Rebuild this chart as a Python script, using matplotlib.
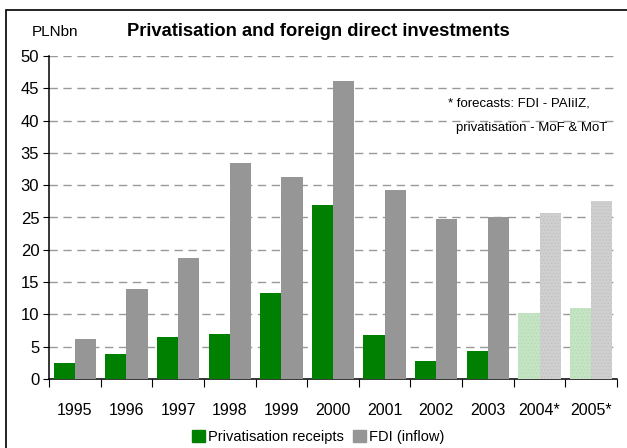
import numpy as np
import matplotlib
matplotlib.use('Agg')
import matplotlib.pyplot as plt
from matplotlib.patches import Rectangle

years = ["1995", "1996", "1997", "1998", "1999", "2000",
         "2001", "2002", "2003", "2004*", "2005*"]
privatisation = [2.5, 3.9, 6.5, 7.0, 13.3, 27.0, 6.8, 2.8, 4.3, 10.2, 11.0]
fdi = [6.2, 13.9, 18.7, 33.5, 31.3, 46.1, 29.2, 24.7, 25.0, 25.7, 27.5]
is_forecast = [False] * 9 + [True, True]

plt.rcParams['font.family'] = ['Liberation Sans', 'DejaVu Sans']
plt.rcParams['hatch.linewidth'] = 0.4

fig = plt.figure(figsize=(6.27, 4.48), dpi=100)
ax = fig.add_axes([49 / 627, 1 - 379 / 448, 568 / 627, 323 / 448])

x = np.arange(len(years))
w = 0.41
for i in x:
    if is_forecast[i]:
        ax.bar(i - w / 2, privatisation[i], w, color='#c4e4c4', hatch='.....',
               edgecolor='#b0d8b0', linewidth=0, zorder=3)
        ax.bar(i + w / 2, fdi[i], w, color='#cfcfcf', hatch='.....',
               edgecolor='#bdbdbd', linewidth=0, zorder=3)
    else:
        ax.bar(i - w / 2, privatisation[i], w, color='#008000', linewidth=0, zorder=3)
        ax.bar(i + w / 2, fdi[i], w, color='#969696', linewidth=0, zorder=3)

ax.set_xlim(-0.5, len(years) - 0.5)
ax.set_ylim(0, 50)
ax.set_yticks(range(0, 55, 5))
ax.tick_params(axis='y', labelsize=12, length=4, direction='out', pad=3)
for yv in range(5, 55, 5):
    ax.axhline(yv, color='#999999', lw=1, ls=(0, (6, 4)), zorder=1)

ax.set_xticks(np.arange(-0.5, len(years), 1))
ax.set_xticklabels([])
ax.set_xticks(x, minor=True)
ax.set_xticklabels(years, minor=True, fontsize=11.5)
ax.tick_params(axis='x', which='major', length=6, direction='out')
ax.tick_params(axis='x', which='minor', length=0, pad=17)

for side in ['top', 'right']:
    ax.spines[side].set_visible(False)
ax.spines['left'].set_linewidth(1.1)
ax.spines['bottom'].set_linewidth(1.1)

fig.text(32 / 627, 1 - 32 / 448, "PLNbn", fontsize=11, va='center')
fig.text(318 / 627, 1 - 32 / 448, "Privatisation and foreign direct investments",
         fontsize=13.2, fontweight='bold', ha='center', va='center')
fig.text(448 / 627, 1 - 103 / 448, "* forecasts: FDI - PAIiIZ,", fontsize=9.5, va='center')
fig.text(456 / 627, 1 - 128 / 448, "privatisation - MoF & MoT", fontsize=9.5, va='center')

# legend squares and labels under the axis
h1 = Rectangle((0, 0), 1, 1, color='#008000')
h2 = Rectangle((0, 0), 1, 1, color='#969696')
fig.legend([h1, h2], ["Privatisation receipts", "FDI (inflow)"], loc='center',
           bbox_to_anchor=(318 / 627, 1 - 437 / 448), ncol=2, frameon=False,
           fontsize=10.5, handlelength=0.9, handleheight=0.9, handletextpad=0.2,
           columnspacing=0.6)

# outer frame
fig.add_artist(Rectangle((6 / 627, -0.1), 1.2, 1 - 10 / 448 + 0.1, transform=fig.transFigure,
                         fill=False, edgecolor='black', lw=1.2))

fig.savefig('out.png', dpi=100)
